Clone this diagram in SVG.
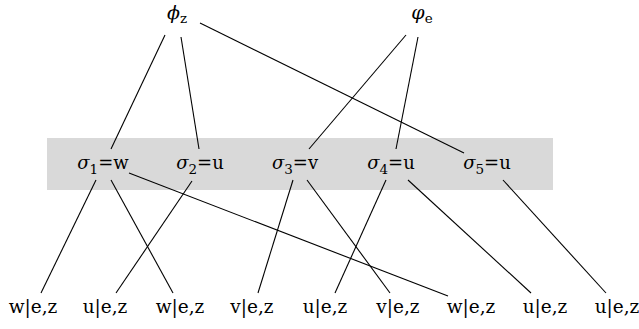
<svg xmlns="http://www.w3.org/2000/svg" width="639" height="329" viewBox="0 0 639 329">
<style>
text{font-family:"DejaVu Serif","Liberation Serif",serif;font-size:18px;fill:#000;text-anchor:middle}
.it{font-style:italic}
.sub{font-size:13.5px}
.phi{font-size:19px}
.leaf{font-size:18.5px}
#connectors line{stroke:#000;stroke-width:1.1}
</style>
<rect id="band" x="47" y="138" width="506" height="52" fill="#d9d9d9"/>
<g id="connectors">
<line x1="165" y1="35" x2="111" y2="149"/>
<line x1="181" y1="37" x2="199" y2="149"/>
<line x1="200" y1="23" x2="464" y2="153"/>
<line x1="406" y1="35" x2="309" y2="149"/>
<line x1="418" y1="37" x2="396" y2="149"/>
<line x1="96" y1="180" x2="41" y2="293"/>
<line x1="111" y1="180" x2="173" y2="293"/>
<line x1="129" y1="173" x2="448" y2="296"/>
<line x1="192" y1="181" x2="116" y2="293"/>
<line x1="293" y1="180" x2="258" y2="293"/>
<line x1="307" y1="180" x2="390" y2="293"/>
<line x1="386" y1="180" x2="335" y2="293"/>
<line x1="408" y1="180" x2="531" y2="293"/>
<line x1="503" y1="180" x2="606" y2="293"/>
</g>
<g id="phi_z"><text x="177" y="19"><tspan class="it phi">ϕ</tspan><tspan class="sub" dy="4">z</tspan></text></g>
<g id="phi_e"><text x="422" y="19"><tspan class="it phi">φ</tspan><tspan class="sub" dy="4">e</tspan></text></g>
<g id="s1"><text x="103" y="169"><tspan class="it">σ</tspan><tspan class="sub" dy="5">1</tspan><tspan dy="-5">=w</tspan></text></g>
<g id="s2"><text x="200" y="169"><tspan class="it">σ</tspan><tspan class="sub" dy="5">2</tspan><tspan dy="-5">=u</tspan></text></g>
<g id="s3"><text x="295" y="169"><tspan class="it">σ</tspan><tspan class="sub" dy="5">3</tspan><tspan dy="-5">=v</tspan></text></g>
<g id="s4"><text x="391" y="169"><tspan class="it">σ</tspan><tspan class="sub" dy="5">4</tspan><tspan dy="-5">=u</tspan></text></g>
<g id="s5"><text x="487" y="169"><tspan class="it">σ</tspan><tspan class="sub" dy="5">5</tspan><tspan dy="-5">=u</tspan></text></g>
<g id="l1"><text class="leaf" x="33" y="313">w|e,z</text></g>
<g id="l2"><text class="leaf" x="105" y="313">u|e,z</text></g>
<g id="l3"><text class="leaf" x="180" y="313">w|e,z</text></g>
<g id="l4"><text class="leaf" x="252" y="313">v|e,z</text></g>
<g id="l5"><text class="leaf" x="325" y="313">u|e,z</text></g>
<g id="l6"><text class="leaf" x="398" y="313">v|e,z</text></g>
<g id="l7"><text class="leaf" x="471" y="313">w|e,z</text></g>
<g id="l8"><text class="leaf" x="545" y="313">u|e,z</text></g>
<g id="l9"><text class="leaf" x="617" y="313">u|e,z</text></g>
</svg>
